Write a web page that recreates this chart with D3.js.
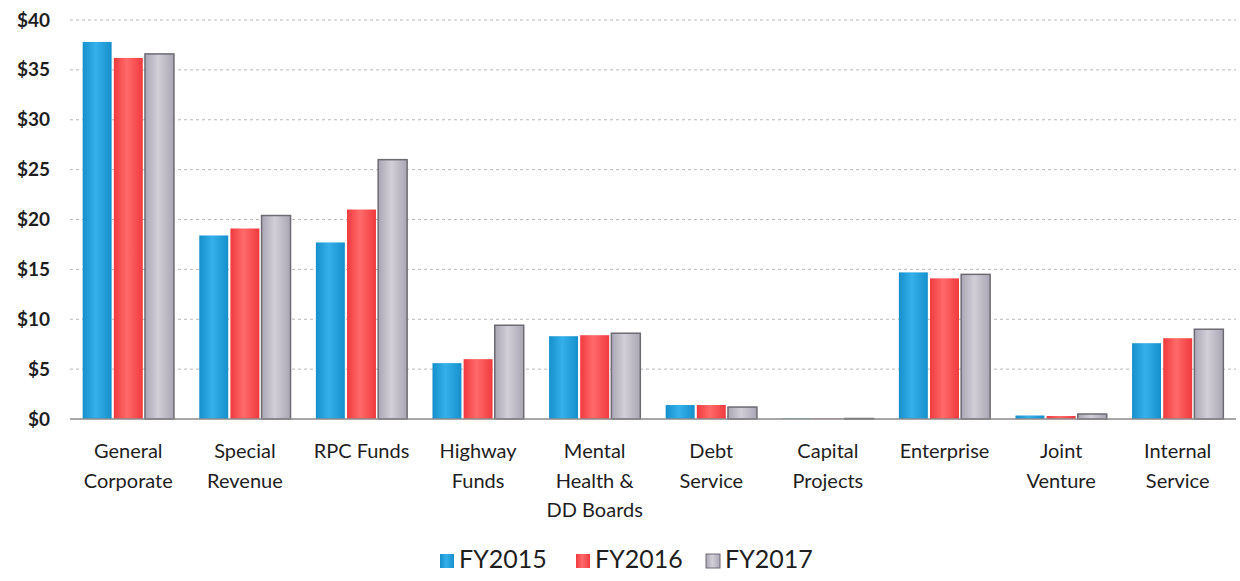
<!DOCTYPE html>
<html>
<head>
<meta charset="utf-8">
<script src="https://cdn.jsdelivr.net/npm/d3@7"></script>
<style>
  body { margin: 0; background: #fff; }
  svg { display: block; font-family: Lato, "Open Sans", sans-serif; }
</style>
</head>
<body>
<svg id="chart" width="1240" height="581"></svg>
<script>
// fund categories, each label split into lines
var categories = [
  ['General', 'Corporate'],
  ['Special', 'Revenue'],
  ['RPC Funds'],
  ['Highway', 'Funds'],
  ['Mental', 'Health &', 'DD Boards'],
  ['Debt', 'Service'],
  ['Capital', 'Projects'],
  ['Enterprise'],
  ['Joint', 'Venture'],
  ['Internal', 'Service']
];
var seriesNames = ['FY2015', 'FY2016', 'FY2017'];
// values in $ millions
var fy2015 = [37.8, 18.4, 17.7, 5.6, 8.3, 1.4, 0.05, 14.7, 0.35, 7.6];
var fy2016 = [36.2, 19.1, 21.0, 6.0, 8.4, 1.4, 0.05, 14.1, 0.3, 8.1];
var fy2017 = [36.6, 20.4, 26.0, 9.4, 8.6, 1.2, 0.05, 14.5, 0.5, 9.0];
var yTicks = [0, 5, 10, 15, 20, 25, 30, 35, 40];

var margin = {top: 20, right: 4, bottom: 162, left: 70};
var svg = d3.select('#chart');
var width = 1240 - margin.left - margin.right;
var height = 581 - margin.top - margin.bottom;

var g = svg.append('g')
  .attr('transform', 'translate(' + margin.left + ',' + margin.top + ')');

var series = [fy2015, fy2016, fy2017];
var colors = {
  FY2015: {mid: '#34b0ea', edge: '#1690cc', stroke: 'none'},
  FY2016: {mid: '#ff6a6a', edge: '#f03a3e', stroke: 'none'},
  FY2017: {mid: '#d2cfd8', edge: '#aaa6b4', stroke: '#6e6a74'}
};

// horizontal gradients to mimic the shaded bars
var defs = svg.append('defs');
seriesNames.forEach(function (name, i) {
  var grad = defs.append('linearGradient')
    .attr('id', 'grad' + i)
    .attr('x1', '0%').attr('x2', '100%')
    .attr('y1', '0%').attr('y2', '0%');
  grad.append('stop').attr('offset', '0%').attr('stop-color', colors[name].edge);
  grad.append('stop').attr('offset', '45%').attr('stop-color', colors[name].mid);
  grad.append('stop').attr('offset', '100%').attr('stop-color', colors[name].edge);
});

var x0 = d3.scaleBand()
  .domain(d3.range(categories.length))
  .range([0, width])
  .paddingInner(0.18)
  .paddingOuter(0.09);

var x1 = d3.scaleBand()
  .domain(seriesNames)
  .range([0, x0.bandwidth()])
  .padding(0.07);

var y = d3.scaleLinear()
  .domain([0, 40])
  .range([height, 0]);

// gridlines
g.append('g')
  .attr('class', 'grid')
  .selectAll('line')
  .data(yTicks.filter(function (d) { return d > 0; }))
  .enter()
  .append('line')
  .attr('x1', 0)
  .attr('x2', width)
  .attr('y1', function (d) { return y(d); })
  .attr('y2', function (d) { return y(d); })
  .attr('stroke', '#b8b8b8')
  .attr('stroke-width', 1)
  .attr('stroke-dasharray', '3,3');

// y axis labels
var yAxis = d3.axisLeft(y)
  .tickValues(yTicks)
  .tickFormat(function (d) { return '$' + d; })
  .tickSize(0)
  .tickPadding(20);

g.append('g')
  .call(yAxis)
  .call(function (sel) { sel.select('.domain').remove(); })
  .selectAll('text')
  .attr('font-size', 19)
  .attr('font-weight', 'bold')
  .attr('fill', '#1e1e1e')
  .attr('font-family', 'Lato, sans-serif');

// bars
var groups = g.selectAll('.cat')
  .data(categories)
  .enter()
  .append('g')
  .attr('class', 'cat')
  .attr('transform', function (d, i) { return 'translate(' + x0(i) + ',0)'; });

groups.selectAll('rect')
  .data(function (d, i) {
    return seriesNames.map(function (name, s) {
      return {name: name, s: s, value: series[s][i]};
    });
  })
  .enter()
  .append('rect')
  .attr('x', function (d) { return x1(d.name); })
  .attr('y', function (d) { return y(d.value); })
  .attr('width', x1.bandwidth())
  .attr('height', function (d) { return height - y(d.value); })
  .attr('fill', function (d) { return 'url(#grad' + d.s + ')'; })
  .attr('stroke', function (d) { return colors[d.name].stroke; })
  .attr('stroke-width', 1.5);

// baseline
g.append('line')
  .attr('x1', 0)
  .attr('x2', width)
  .attr('y1', y(0))
  .attr('y2', y(0))
  .attr('stroke', '#8a8a8a')
  .attr('stroke-width', 1.5);

// category labels
var labels = g.append('g')
  .selectAll('text')
  .data(categories)
  .enter()
  .append('text')
  .attr('text-anchor', 'middle')
  .attr('font-size', 20)
  .attr('fill', '#1e1e1e')
  .attr('transform', function (d, i) {
    return 'translate(' + (x0(i) + x0.bandwidth() / 2) + ',' + (height + 39) + ')';
  });

labels.selectAll('tspan')
  .data(function (d) { return d; })
  .enter()
  .append('tspan')
  .attr('x', 0)
  .attr('dy', function (d, i) { return i === 0 ? 0 : 29.5; })
  .text(function (d) { return d; });

// legend
var legend = svg.append('g')
  .attr('transform', 'translate(' + 440 + ',' + 568 + ')');

var legendSpacing = [0, 136, 266];
seriesNames.forEach(function (name, i) {
  var item = legend.append('g')
    .attr('transform', 'translate(' + legendSpacing[i] + ',0)');
  item.append('rect')
    .attr('x', 0)
    .attr('y', -14)
    .attr('width', 14)
    .attr('height', 14)
    .attr('fill', 'url(#grad' + i + ')')
    .attr('stroke', colors[name].stroke);
  item.append('text')
    .attr('x', 19)
    .attr('y', 0)
    .attr('font-size', 25)
    .attr('fill', '#1e1e1e')
    .text(name);
});
</script>
</body>
</html>
